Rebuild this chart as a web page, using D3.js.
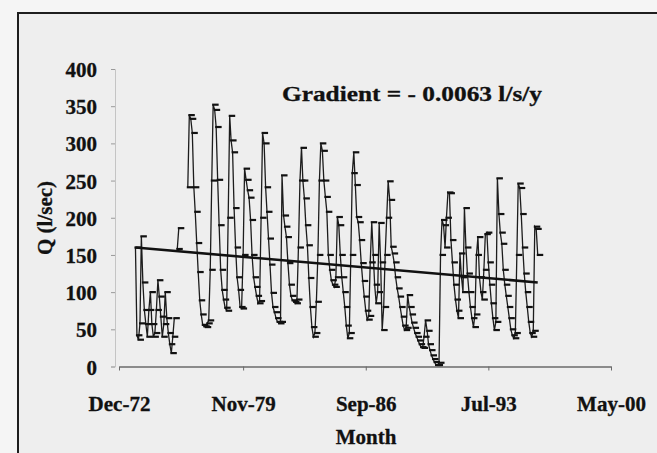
<!DOCTYPE html>
<html>
<head>
<meta charset="utf-8">
<script src="https://cdn.jsdelivr.net/npm/d3@7"></script>
<style>
  body { margin: 0; background: #f5f5f5; }
  svg { display: block; font-family: "Liberation Serif", "Times New Roman", serif; font-weight: bold; }
</style>
</head>
<body>
<div id="chart"></div>
<script>
var width = 657, height = 453

// monthly flow Q (l/sec), first value is Nov-73, null = no record
var firstMonth = [1973, 10]
var flow = [
  160, 42,
  36, 58, 175, 113, 76, 57, 40, 76, 100, 57, 40, 45,
  76, 116, 94, 67, 40, 57, 100, 65, 45, 30, 18, 40,
  65, null, 158, 186, null, null, null, null, null, 241, 338, 333,
  314, 241, 208, 166, 127, 89, 70, 56, 54, 53, 58, 62,
  130, 250, 352, 345, 322, 251, 190, 130, 103, 90, 79, 75,
  200, 337, 304, 288, 213, 160, 120, 103, 80, 78, 150, 266,
  251, 237, 227, 197, 150, 120, 107, 95, 85, 88, 200, 314,
  300, 241, 208, 172, 137, 99, 80, 73, 65, 60, 58, 60,
  257, 203, 188, 174, 139, 110, 95, 89, 87, 85, 90, 160,
  250, 294, 250, 226, 190, 163, 119, 80, 53, 40, 45, 87,
  150, 250, 300, 290, 250, 228, 208, 150, 130, 116, 110, 107,
  120, 201, 190, 150, 120, 100, 80, 55, 38, 45, 150, 260,
  288, 244, 201, 194, 170, 139, 115, 94, 75, 63, 68, 140,
  194, 150, 110, 85, 100, 193, 140, 49, 80, 150, 200, 249,
  224, 161, 152, 140, 120, 105, 94, 80, 67, 55, 49, 52,
  96, 80, 70, 59, 52, 45, 40, 35, 30, 26, 25, 40,
  62, 48, 30, 22, 15, 10, 6, 2, 2, 5, 150, 197,
  190, 160, 200, 234, 233, 170, 140, 110, 90, 75, 65, 152,
  120, 100, 213, 160, 125, 100, 80, 65, 53, 70, 150, 174,
  120, 100, 90, 130, 178, 180, 140, 110, 85, 65, 49, 60,
  253, 205, 180, 165, 130, 110, 95, 80, 65, 50, 42, 38,
  45, 150, 246, 240, 205, 160, 125, 100, 80, 60, 45, 40,
  48, 188, 185, 150
]

// linear trend line (start, end of record)
var trendQ = [160, 113]

var yTicks = [0, 50, 100, 150, 200, 250, 300, 350, 400]
var xTicks = ["Dec-72", "Nov-79", "Sep-86", "Jul-93", "May-00"]
var title = "Gradient = - 0.0063 l/s/y"

var parseMonth = d3.timeParse("%b-%y")
var fmtMonth = d3.timeFormat("%b-%y")

var data = flow.map(function(q, i) {
  return { date: new Date(firstMonth[0], firstMonth[1] + i, 1), q: q }
})
var trend = [
  { date: data[0].date, q: trendQ[0] },
  { date: data[data.length - 1].date, q: trendQ[1] }
]

var svg = d3.select("#chart").append("svg").attr("width", width).attr("height", height)

svg.append("rect")
   .attr("x", 18).attr("y", 13)
   .attr("width", 700).attr("height", 500)
   .attr("fill", "#eeeeee")
   .attr("stroke", "#1e1e1e")
   .attr("stroke-width", 2)

var x = d3.scaleTime()
          .domain([parseMonth(xTicks[0]), parseMonth(xTicks[xTicks.length - 1])])
          .range([119, 611])
var y = d3.scaleLinear().domain([0, 400]).range([366.5, 69])

// y axis
var yAxis = svg.append("g")
               .attr("transform", "translate(115,0)")
               .call(d3.axisLeft(y).tickValues(yTicks).tickSize(4).tickPadding(14))
yAxis.select(".domain").attr("stroke", "#c4c4c4")
yAxis.selectAll(".tick line").attr("stroke", "#9a9a9a")
yAxis.selectAll("text")
     .attr("font-family", "Liberation Serif, serif")
     .attr("font-weight", "bold")
     .attr("font-size", 21)
     .attr("fill", "#111")
     .attr("stroke", "#111").attr("stroke-width", 0.3)
     .attr("dy", "0.36em")

// x axis
var xAxis = svg.append("g")
               .attr("transform", "translate(0," + y(0) + ")")
               .call(d3.axisBottom(x)
                       .tickValues(xTicks.map(parseMonth))
                       .tickFormat(fmtMonth)
                       .tickSize(4)
                       .tickSizeOuter(0)
                       .tickPadding(26))
xAxis.select(".domain").attr("stroke", "#6a6a6a").attr("stroke-width", 1.5)
xAxis.selectAll(".tick line").attr("stroke", "#6a6a6a")
xAxis.selectAll("text")
     .attr("font-family", "Liberation Serif, serif")
     .attr("font-weight", "bold")
     .attr("font-size", 21)
     .attr("fill", "#111")
     .attr("stroke", "#111").attr("stroke-width", 0.3)

// flow series
var line = d3.line()
             .defined(function(d) { return d.q != null })
             .x(function(d) { return x(d.date) })
             .y(function(d) { return y(d.q) })

svg.append("path")
   .datum(data)
   .attr("fill", "none")
   .attr("stroke", "#1c1c1c")
   .attr("stroke-width", 1.3)
   .attr("d", line)

// dash markers
svg.selectAll(".mark")
   .data(data.filter(function(d) { return d.q != null }))
   .enter()
   .append("line")
   .attr("class", "mark")
   .attr("x1", function(d) { return x(d.date) - 1 })
   .attr("x2", function(d) { return x(d.date) + 5.5 })
   .attr("y1", function(d) { return y(d.q) })
   .attr("y2", function(d) { return y(d.q) })
   .attr("stroke", "#111")
   .attr("stroke-width", 2.2)

// trend
svg.append("path")
   .datum(trend)
   .attr("fill", "none")
   .attr("stroke", "#111")
   .attr("stroke-width", 2.6)
   .attr("d", d3.line().x(function(d) { return x(d.date) }).y(function(d) { return y(d.q) }))

svg.append("text")
   .attr("x", 412).attr("y", 101)
   .attr("text-anchor", "middle")
   .attr("font-size", 21)
   .attr("textLength", 260)
   .attr("lengthAdjust", "spacingAndGlyphs")
   .attr("fill", "#111")
   .attr("stroke", "#111").attr("stroke-width", 0.3)
   .text(title)

svg.append("text")
   .attr("x", 366).attr("y", 444)
   .attr("text-anchor", "middle")
   .attr("font-size", 21)
   .attr("fill", "#111")
   .attr("stroke", "#111").attr("stroke-width", 0.3)
   .text("Month")

svg.append("text")
   .attr("transform", "translate(52,218) rotate(-90)")
   .attr("text-anchor", "middle")
   .attr("font-size", 21)
   .attr("fill", "#111")
   .attr("stroke", "#111").attr("stroke-width", 0.3)
   .text("Q (l/sec)")
</script>
</body>
</html>
